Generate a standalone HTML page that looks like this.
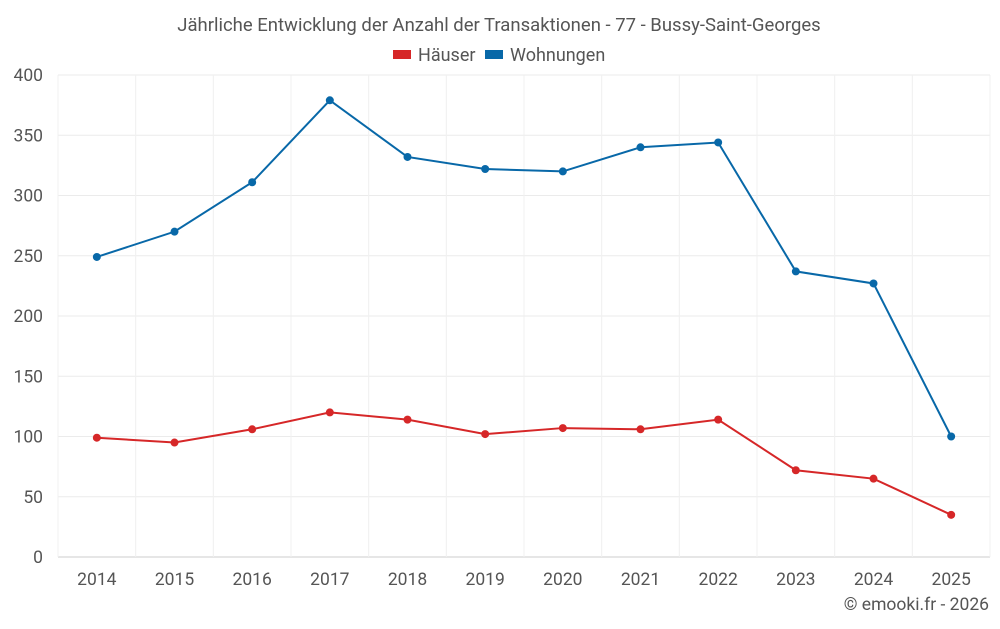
<!DOCTYPE html>
<html><head><meta charset="utf-8"><style>
body{margin:0;background:#fff;font-family:"Roboto","Liberation Sans",sans-serif}
</style></head><body>
<svg id="chart" width="1000" height="625" xmlns="http://www.w3.org/2000/svg">
<text x="499" y="31" text-anchor="middle" font-size="18.5" fill="#555">Jährliche Entwicklung der Anzahl der Transaktionen - 77 - Bussy-Saint-Georges</text>
<g><rect x="393" y="50" width="18" height="9" fill="#d62728"/><text x="418" y="61" font-size="18" fill="#555">Häuser</text></g>
<g><rect x="485" y="50" width="18" height="9" fill="#0868a8"/><text x="510" y="61" font-size="18" fill="#555">Wohnungen</text></g>
<g id="grid"></g><g id="axes"></g><g id="series"></g>
<text x="989" y="610" text-anchor="end" font-size="17.5" fill="#555">© emooki.fr - 2026</text>
</svg>
<script>
const years=["2014","2015","2016","2017","2018","2019","2020","2021","2022","2023","2024","2025"];
const haeuser=[99,95,106,120,114,102,107,106,114,72,65,35];
const wohnungen=[249,270,311,379,332,322,320,340,344,237,227,100];
const yTicks=[0,50,100,150,200,250,300,350,400];
const NS="http://www.w3.org/2000/svg";
const L=58,R=990,T=75,B=557,yMax=400;
const band=(R-L)/years.length;
const x=i=>L+band*(i+0.5);
const y=v=>B-(v/yMax)*(B-T);
function mk(t,a,p){const e=document.createElementNS(NS,t);for(const k in a)e.setAttribute(k,a[k]);p.appendChild(e);return e;}
const g=document.getElementById('grid'),ax=document.getElementById('axes'),s=document.getElementById('series');
yTicks.forEach(v=>{
 const l=mk('line',{x1:L,x2:R,y1:y(v),y2:y(v),stroke:v===0?'#ccc':'#ebebeb'},g);
 
 
 const t=mk('text',{x:43,y:y(v)+6,'text-anchor':'end','font-size':17.5,fill:'#555'},ax);t.textContent=v;
 
 
});
for(let i=0;i<=years.length;i++){
 const l=mk('line',{x1:L+band*i,x2:L+band*i,y1:T,y2:B,stroke:'#f0f0f0'},g);
 
 
}
years.forEach((yr,i)=>{
 const t=mk('text',{x:x(i),y:585,'text-anchor':'middle','font-size':17.5,fill:'#555'},ax);t.textContent=yr;
 
 
});
function series(data,color,name){
 const p=mk('polyline',{points:data.map((v,i)=>x(i)+','+y(v)).join(' '),fill:'none',stroke:color,'stroke-width':2},s);
 
 
 data.forEach((v,i)=>{
  const c=mk('circle',{cx:x(i),cy:y(v),r:4,fill:color},s);
  
  
 });
}
series(wohnungen,'#0868a8','wohnungen');
series(haeuser,'#d62728','haeuser');
</script>
</body></html>
